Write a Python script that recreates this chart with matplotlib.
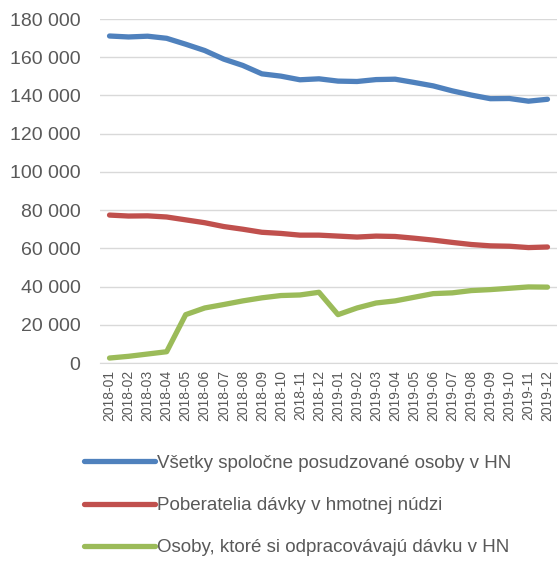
import matplotlib
matplotlib.use("Agg")
from matplotlib import pyplot as plt
from matplotlib.ticker import FuncFormatter

months = ["2018-01", "2018-02", "2018-03", "2018-04", "2018-05", "2018-06",
          "2018-07", "2018-08", "2018-09", "2018-10", "2018-11", "2018-12",
          "2019-01", "2019-02", "2019-03", "2019-04", "2019-05", "2019-06",
          "2019-07", "2019-08", "2019-09", "2019-10", "2019-11", "2019-12"]

vsetky = [171100, 170600, 171000, 169900, 166800, 163500, 159000, 155700,
          151300, 150100, 148200, 148700, 147500, 147300, 148300, 148500,
          146800, 145000, 142400, 140200, 138300, 138400, 137000, 138000]

poberatelia = [77400, 76900, 77000, 76400, 74900, 73400, 71400, 70000,
               68400, 67800, 66900, 66900, 66400, 65900, 66400, 66200,
               65300, 64300, 63100, 62000, 61300, 61100, 60400, 60700]

odpracovavaju = [2600, 3500, 4700, 5900, 25300, 28800, 30600, 32500,
                 34100, 35300, 35600, 37000, 25300, 28800, 31400, 32500,
                 34400, 36300, 36700, 37900, 38400, 39100, 39800, 39700]

labels = ["Všetky spoločne posudzované osoby v HN",
          "Poberatelia dávky v hmotnej núdzi",
          "Osoby, ktoré si odpracovávajú dávku v HN"]

plt.rcParams["font.family"] = ["Liberation Sans", "DejaVu Sans"]
text_color = "#595959"

fig = plt.figure(figsize=(5.58, 5.62), dpi=100)
ax = fig.add_axes([100 / 558, 1 - 363 / 562, 457 / 558, 344 / 562])

x = range(len(months))
l1, = ax.plot(x, vsetky, color="#4F81BD", linewidth=3.8, solid_capstyle="round")
l2, = ax.plot(x, poberatelia, color="#C0504D", linewidth=3.8, solid_capstyle="round")
l3, = ax.plot(x, odpracovavaju, color="#9BBB59", linewidth=3.8, solid_capstyle="round")

ax.set_xlim(-0.5, len(months) - 0.5)
ax.set_ylim(0, 180000)
ax.set_yticks(range(0, 180001, 20000))
ax.yaxis.set_major_formatter(FuncFormatter(lambda v, p: f"{int(v):,}".replace(",", " ")))
ax.set_xticks(list(x))
ax.set_xticklabels(months, rotation=90, fontsize=10, color=text_color)
ax.tick_params(axis="y", labelsize=14, labelcolor=text_color, length=0, pad=14)
ax.tick_params(axis="x", length=0, pad=5)

ax.grid(axis="y", color="#D9D9D9", linewidth=1)
ax.set_axisbelow(True)
for side in ["top", "right", "left"]:
    ax.spines[side].set_visible(False)
ax.spines["bottom"].set_color("#D9D9D9")

fig.legend([l1, l2, l3], labels, loc="upper left", bbox_to_anchor=(76 / 558, 1 - 447 / 562),
           frameon=False, fontsize=13.5, labelcolor=text_color, handlelength=3.8,
           handletextpad=0.1, labelspacing=1.35, borderaxespad=0)

plt.savefig("out.png", dpi=100)
